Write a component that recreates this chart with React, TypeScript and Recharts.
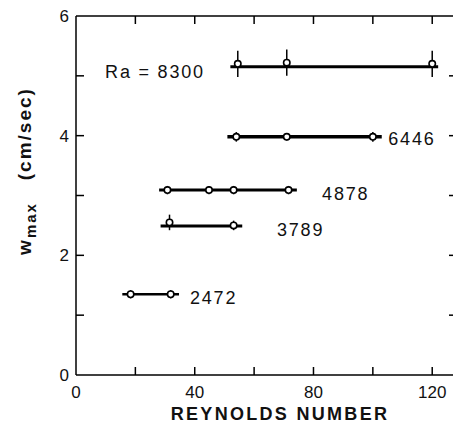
import React from 'react';
import { ComposedChart, Scatter, XAxis, YAxis, ErrorBar } from 'recharts';

// Points measured along each Rayleigh-number run (Reynolds number, w_max, error)
const ra8300X = [54.5, 71, 120];
const ra8300Y = [5.2, 5.22, 5.2];
const ra8300Err = [0.22, 0.22, 0.22];
const ra6446X = [54, 71, 100];
const ra6446Y = [3.98, 3.98, 3.98];
const ra6446Err = [0.08, 0.06, 0.08];
const ra4878X = [30.8, 44.8, 53.1, 71.6];
const ra4878Y = [3.09, 3.09, 3.09, 3.09];
const ra4878Err = [0.07, 0.07, 0.07, 0.07];
const ra3789X = [31.5, 53.1];
const ra3789Y = [2.55, 2.5];
const ra3789Err = [0.13, 0.08];
const ra2472X = [18.4, 31.9];
const ra2472Y = [1.35, 1.35];
const ra2472Err = [0.07, 0.07];

// extent of each horizontal bar [from, to, level]
const ra8300Range = [52, 122, 5.15];
const ra6446Range = [51, 103, 3.98];
const ra4878Range = [28, 74.4, 3.09];
const ra3789Range = [28.5, 56, 2.49];
const ra2472Range = [15.6, 34.7, 1.35];

const runLabels = ['Ra = 8300', '6446', '4878', '3789', '2472'];
const labelX = [9.8, 105.2, 82.9, 67.7, 38.4];
const labelY = [5.07, 3.95, 3.03, 2.42, 1.29];

const xTicks = [0, 20, 40, 60, 80, 100, 120];
const xLabelled = [0, 40, 80, 120];
const xMinorMarks = [20, 40, 60, 80, 100, 120];
const yTicks = [0, 1, 2, 3, 4, 5, 6];
const yLabelled = [0, 2, 4, 6];
const yMinorMarks = [1, 2, 3, 4, 5];

const X_MAX = 127;
const Y_MAX = 6;
const PLOT_LEFT = 76;
const PLOT_RIGHT = 453;
const PLOT_TOP = 16;
const PLOT_BOTTOM = 375;
const X_PER_PX = X_MAX / (PLOT_RIGHT - PLOT_LEFT);
const Y_PER_PX = Y_MAX / (PLOT_BOTTOM - PLOT_TOP);
const FONT = '"Liberation Sans", Arial, Helvetica, sans-serif';
const AXIS = { stroke: '#000', strokeWidth: 1.5 };

const toPoints = (xs: number[], ys: number[], errs: number[]) =>
  xs.map((x, i) => ({ x, y: ys[i], err: errs[i] }));
const toRange = (r: number[]) => [
  { x: r[0], y: r[2] },
  { x: r[1], y: r[2] },
];

const runs = [
  { points: toPoints(ra8300X, ra8300Y, ra8300Err), range: toRange(ra8300Range), width: 3 },
  { points: toPoints(ra6446X, ra6446Y, ra6446Err), range: toRange(ra6446Range), width: 3.5 },
  { points: toPoints(ra4878X, ra4878Y, ra4878Err), range: toRange(ra4878Range), width: 3 },
  { points: toPoints(ra3789X, ra3789Y, ra3789Err), range: toRange(ra3789Range), width: 3 },
  { points: toPoints(ra2472X, ra2472Y, ra2472Err), range: toRange(ra2472Range), width: 2.5 },
];

const labelData = runLabels.map((text, i) => ({ x: labelX[i], y: labelY[i], text }));

// frame: top border plus inward tick marks on all four sides
const xMark = 8 * Y_PER_PX;
const yMark = 8 * X_PER_PX;
const rMark = 4 * X_PER_PX;
const frameSegments = [
  [{ x: 0, y: Y_MAX }, { x: X_MAX, y: Y_MAX }],
  ...xMinorMarks.map((v) => [{ x: v, y: 0 }, { x: v, y: xMark }]),
  ...xMinorMarks.map((v) => [{ x: v, y: Y_MAX }, { x: v, y: Y_MAX - xMark }]),
  ...yMinorMarks.map((v) => [{ x: 0, y: v }, { x: yMark, y: v }]),
  ...yMinorMarks.map((v) => [{ x: X_MAX - rMark, y: v }, { x: X_MAX, y: v }]),
];

const OpenCircle = (props: any) => (
  <circle cx={props.cx} cy={props.cy} r={3.2} fill="#fff" stroke="#000" strokeWidth={1.6} />
);

const NoShape = () => <g />;

const RunLabel = (props: any) => (
  <text
    x={props.cx}
    y={props.cy}
    dominantBaseline="central"
    fontFamily={FONT}
    fontSize={18}
    letterSpacing={1.8}
    fill="#111"
  >
    {props.payload.text}
  </text>
);

const YTitle = () => (
  <text
    transform="translate(31, 171) rotate(-90)"
    textAnchor="middle"
    fontFamily={FONT}
    fontSize={19}
    fontWeight="bold"
    letterSpacing={2}
    fill="#111"
  >
    <tspan>w</tspan>
    <tspan fontSize={15} dy={5}>max</tspan>
    <tspan dy={-5}>{'\u00a0\u00a0\u00a0(cm/sec)'}</tspan>
  </text>
);

const XTitle = () => (
  <text
    x={280}
    y={420}
    textAnchor="middle"
    fontFamily={FONT}
    fontSize={18}
    fontWeight="bold"
    letterSpacing={2.3}
    fill="#111"
  >
    REYNOLDS NUMBER
  </text>
);

const tickFont = { fontSize: 17, fill: '#111', fontFamily: FONT };

export default function App() {
  return (
    <div style={{ position: 'absolute', left: 0, top: 0, background: '#fff' }}>
      <ComposedChart
        width={455}
        height={424}
        margin={{ top: PLOT_TOP, right: 455 - PLOT_RIGHT, bottom: 0, left: 0 }}
      >
        <XAxis
          type="number"
          dataKey="x"
          domain={[0, X_MAX]}
          ticks={xTicks}
          interval={0}
          height={424 - PLOT_BOTTOM}
          axisLine={AXIS}
          tickLine={false}
          tickSize={0}
          tickMargin={11}
          tick={tickFont}
          tickFormatter={(v: number) => (xLabelled.includes(v) ? String(v) : '')}
          label={{ content: () => <XTitle /> }}
        />
        <YAxis
          type="number"
          dataKey="y"
          domain={[0, Y_MAX]}
          ticks={yTicks}
          interval={0}
          width={PLOT_LEFT}
          axisLine={AXIS}
          tickLine={false}
          tickSize={0}
          tickMargin={7}
          tick={tickFont}
          tickFormatter={(v: number) => (yLabelled.includes(v) ? String(v) : '')}
          label={{ content: () => <YTitle /> }}
        />
        {frameSegments.map((seg, i) => (
          <Scatter
            key={`frame-${i}`}
            data={seg}
            line={{ stroke: '#000', strokeWidth: 1.5 }}
            shape={<NoShape />}
            isAnimationActive={false}
          />
        ))}
        {runs.map((run, i) => (
          <Scatter
            key={`range-${i}`}
            data={run.range}
            line={{ stroke: '#000', strokeWidth: run.width }}
            shape={<NoShape />}
            isAnimationActive={false}
          />
        ))}
        {runs.map((run, i) => (
          <Scatter
            key={`pts-${i}`}
            data={run.points}
            shape={<OpenCircle />}
            isAnimationActive={false}
          >
            <ErrorBar dataKey="err" direction="y" width={0} stroke="#000" strokeWidth={1.5} />
          </Scatter>
        ))}
        <Scatter data={labelData} shape={<RunLabel />} isAnimationActive={false} />
      </ComposedChart>
    </div>
  );
}
